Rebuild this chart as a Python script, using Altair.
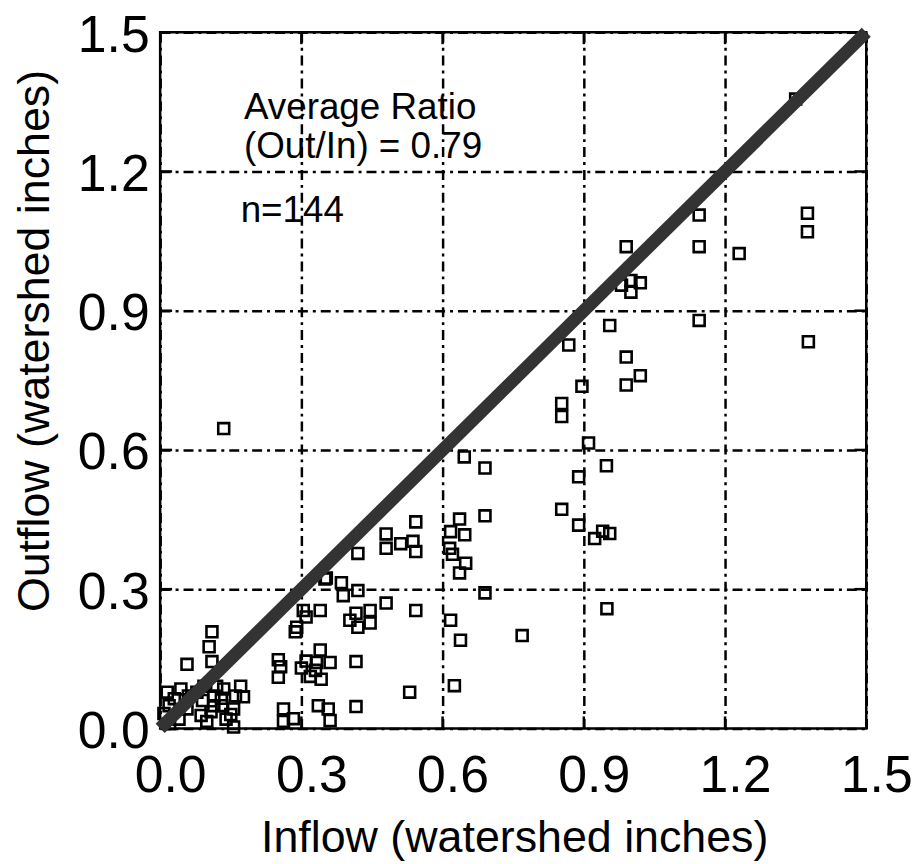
import altair as alt
import pandas as pd

# ---- data ----
inflow = [
    1.35, 1.375, 1.375, 1.377, 1.23, 1.145, 1.145, 1.145, 0.99, 0.98,
    1.0, 1.02, 1.0, 0.955, 0.868, 0.99, 1.02, 0.99, 0.896, 0.853,
    0.853, 0.91, 0.948, 0.889, 0.853, 0.889, 0.923, 0.955, 0.94, 0.949,
    0.646, 0.69, 0.636, 0.69, 0.647, 0.617, 0.615, 0.649, 0.636, 0.621,
    0.69, 0.617, 0.638, 0.769, 0.625, 0.53, 0.543, 0.48, 0.543, 0.537,
    0.48, 0.48, 0.511, 0.543, 0.42, 0.353, 0.385, 0.42, 0.389, 0.446,
    0.416, 0.34, 0.31, 0.29, 0.403, 0.446, 0.42, 0.287, 0.34, 0.332,
    0.319, 0.342, 0.361, 0.416, 0.256, 0.251, 0.262, 0.283, 0.262, 0.336,
    0.357, 0.361, 0.416, 0.135, 0.11, 0.104, 0.057, 0.11, 0.015, 0.044,
    0.019, 0.008, 0.114, 0.135, 0.16, 0.177, 0.114, 0.131, 0.156, 0.087,
    0.099, 0.108, 0.156, 0.03, 0.057, 0.078, 0.093, 0.171, 0.12, 0.304,
    0.30, 0.33, 0.31, 0.04, 0.06, 0.14, 0.13, 0.02, 0.09, 0.15,
    0.251, 0.35,
]
outflow = [
    1.356, 1.11, 1.07, 0.833, 1.023, 1.106, 1.038, 0.879, 1.038, 0.955,
    0.94, 0.96, 0.965, 0.868, 0.826, 0.80, 0.76, 0.74, 0.737, 0.70,
    0.672, 0.615, 0.566, 0.542, 0.472, 0.438, 0.409, 0.42, 0.425, 0.258,
    0.585, 0.561, 0.451, 0.458, 0.417, 0.424, 0.388, 0.356, 0.335, 0.375,
    0.292, 0.233, 0.19, 0.2, 0.092, 0.078, 0.254, 0.27, 0.445, 0.403,
    0.419, 0.388, 0.398, 0.381, 0.377, 0.324, 0.314, 0.297, 0.286, 0.254,
    0.248, 0.254, 0.24, 0.218, 0.233, 0.227, 0.218, 0.208, 0.169, 0.142,
    0.112, 0.106, 0.142, 0.144, 0.133, 0.11, 0.042, 0.021, 0.015, 0.049,
    0.042, 0.017, 0.047, 0.646, 0.208, 0.176, 0.138, 0.144, 0.078, 0.085,
    0.049, 0.032, 0.07, 0.085, 0.07, 0.068, 0.049, 0.049, 0.042, 0.028,
    0.015, 0.036, 0.003, 0.064, 0.042, 0.078, 0.091, 0.091, 0.091, 0.254,
    0.13, 0.125, 0.145, 0.02, 0.07, 0.02, 0.065, 0.01, 0.06, 0.03,
    0.148, 0.322,
]

line_x = [0.0, 1.5]
line_y = [0.0, 1.5]

tick_values = [0.0, 0.3, 0.6, 0.9, 1.2, 1.5]
inner_ticks = [0.3, 0.6, 0.9, 1.2]

note_text = ["Average Ratio", "(Out/In) = 0.79", "n=144"]
note_x = [0.178, 0.178, 0.171]
note_y = [1.313, 1.229, 1.091]

# ---- chart ----
W, H = 710, 700
FONT = "Liberation Sans"
TICK = 12

pts = pd.DataFrame({"x": inflow, "y": outflow})
diag = pd.DataFrame({"x": line_x, "y": line_y})
ticks = pd.DataFrame({"x": inner_ticks, "y": inner_ticks})
notes = pd.DataFrame({"x": note_x, "y": note_y, "t": note_text})

xscale = alt.Scale(domain=[0, 1.5], nice=False, zero=False)
yscale = alt.Scale(domain=[0, 1.5], nice=False, zero=False)

common_axis = dict(
    values=tick_values, format=".1f", grid=True, gridColor="black",
    gridDash=[10, 5, 3, 5], gridWidth=2.5, gridOpacity=1, domain=False,
    ticks=False, tickSize=0, labelFontSize=52, labelFont=FONT,
    labelColor="black", labelFlush=False, labelOverlap=False,
    titleFont=FONT, titleFontWeight="normal", titleColor="black",
)

x_axis = alt.Axis(
    title="Inflow (watershed inches)", labelPadding=22, labelOffset=10,
    titleFontSize=45, titleX=356, titleY=124, titleBaseline="alphabetic",
    titleAlign="center", **common_axis,
)
y_axis = alt.Axis(
    title="Outflow (watershed inches)", labelPadding=11, labelOffset=3,
    titleFontSize=45, titleX=-112, titleY=310, titleAngle=270,
    titleBaseline="alphabetic", titleAlign="center", **common_axis,
)

X = alt.X("x:Q", scale=xscale, axis=x_axis)
Y = alt.Y("y:Q", scale=yscale, axis=y_axis)

points = alt.Chart(pts).mark_point(
    shape="square", filled=False, size=121, strokeWidth=2.6,
    color="black", opacity=1,
).encode(x=X, y=Y)

line = alt.Chart(diag).mark_line(color="#333333", strokeWidth=13).encode(x=X, y=Y)

tick_style = dict(color="black", strokeWidth=2.5)
t_bottom = alt.Chart(ticks).mark_rule(**tick_style).encode(
    x=X, y=alt.value(H), y2=alt.value(H - TICK))
t_top = alt.Chart(ticks).mark_rule(**tick_style).encode(
    x=X, y=alt.value(0), y2=alt.value(TICK))
t_left = alt.Chart(ticks).mark_rule(**tick_style).encode(
    y=Y, x=alt.value(0), x2=alt.value(TICK))
t_right = alt.Chart(ticks).mark_rule(**tick_style).encode(
    y=Y, x=alt.value(W), x2=alt.value(W - TICK))

text = alt.Chart(notes).mark_text(
    align="left", baseline="alphabetic", font=FONT, fontSize=37, color="black",
).encode(x=X, y=Y, text="t:N")

chart = alt.layer(points, t_bottom, t_top, t_left, t_right, line, text).properties(
    width=W, height=H,
    autosize=alt.AutoSizeParams(type="none"),
    padding={"left": 153, "top": 22, "right": 50, "bottom": 136},
).configure_view(stroke="black", strokeWidth=2.5)

chart.save("out.html", embed_options={"renderer": "svg", "actions": False})
